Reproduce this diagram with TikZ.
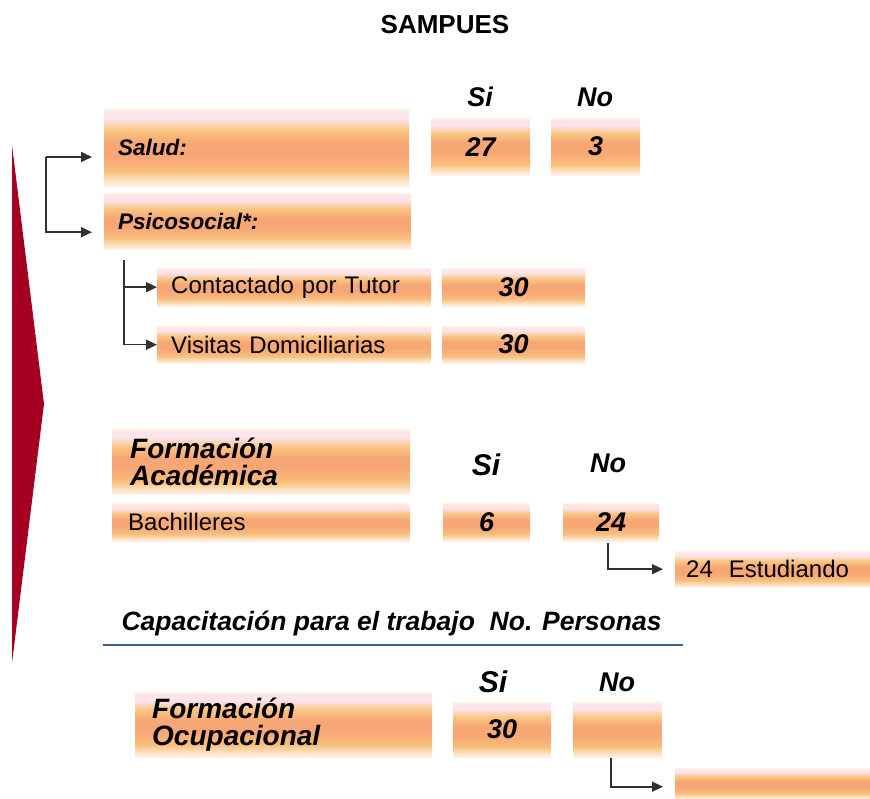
\documentclass[tikz,border=0pt]{standalone}
\usepackage{fontspec}
\setmainfont{Liberation Sans}
\usepackage{tikz}
\usetikzlibrary{positioning,arrows.meta,calc}
\definecolor{arrowred}{HTML}{A50021}
\definecolor{rulebl}{HTML}{3D5F92}
\definecolor{linkgray}{HTML}{303030}
\definecolor{bandtop}{HTML}{FFF3DE}
\definecolor{bandpink}{HTML}{FCE4EC}
\definecolor{bandyel}{HTML}{FAC47F}
\definecolor{bandsal}{HTML}{F7A675}
\definecolor{bandorg}{HTML}{F9BD7B}
\definecolor{bandpale}{HTML}{FCE6C8}
\definecolor{bandbot}{HTML}{FDF1F0}
\pgfdeclareverticalshading{bandfill}{100bp}{
  color(0bp)=(bandbot); color(25bp)=(bandbot); color(28bp)=(bandpale);
  color(35bp)=(bandorg); color(45bp)=(bandsal); color(53bp)=(bandsal);
  color(61bp)=(bandyel); color(69bp)=(bandpink); color(73bp)=(bandpink);
  color(75bp)=(bandtop); color(100bp)=(bandtop)}
\newcommand{\titlefnt}{\fontsize{26}{28}\selectfont\bfseries}
\newcommand{\itemfnt}{\fontsize{22.5}{24}\selectfont\bfseries\itshape}
\newcommand{\blockfnt}{\fontsize{28}{27}\selectfont\bfseries\itshape}
\newcommand{\plainfnt}{\fontsize{24}{26}\selectfont}
\newcommand{\countfnt}{\fontsize{27}{29}\selectfont\bfseries\itshape}
\newcommand{\nofnt}{\fontsize{27}{29}\selectfont\bfseries\itshape}
\newcommand{\sifnt}{\fontsize{30}{32}\selectfont\bfseries\itshape}
\newcommand{\capfnt}{\fontsize{26.5}{28}\selectfont\bfseries\itshape}
\tikzstyle{band}=[shading=bandfill,anchor=north west,inner sep=0pt]
\tikzstyle{labelbox}=[band,align=left,inner xsep=14pt]
\tikzstyle{countbox}=[band,font=\countfnt]
\tikzstyle{head}=[font=\nofnt]
\tikzstyle{link}=[draw=linkgray,line width=1.6pt,-{Triangle[length=11pt,width=10pt]}]

\begin{document}
\begin{tikzpicture}[x=1pt,y=-1pt]
  \useasboundingbox (0,0) rectangle (870,799);

  \node(title) at (445,25) {\titlefnt SAMPUES};

  \fill[arrowred] (12,145) -- (44,404) -- (12,663) -- cycle;

  % salud / psicosocial
  \node(salud)[labelbox,text width=277pt,minimum height=77pt,font=\itemfnt] at (104,109) {Salud:};
  \node(psico)[labelbox,text width=279pt,minimum height=56pt,font=\itemfnt] at (104,193) {Psicosocial*:};
  \node(n27)[countbox,minimum width=99pt,minimum height=57pt] at (431,118) {27};
  \node(n3)[countbox,minimum width=89pt,minimum height=57pt] at (551,118) {3};
  \node(si1)[head] at (480,97) {Si};
  \node(no1)[head] at (595,97) {No};

  \node(contact)[labelbox,text width=246pt,minimum height=38pt,font=\plainfnt] at (157,268) {Contactado por Tutor};
  \node(visit)[labelbox,text width=246pt,minimum height=37pt,font=\plainfnt] at (157,326) {Visitas Domiciliarias};
  \node(n30a)[countbox,minimum width=143pt,minimum height=38pt] at (442,268) {30};
  \node(n30b)[countbox,minimum width=143pt,minimum height=37pt] at (442,326) {30};

  \coordinate(fork1) at (46,157);
  \draw[link,shorten >=12pt] (fork1) -- (fork1 -| salud.west);
  \draw[link,shorten >=12pt] (fork1) |- ([yshift=-11pt]psico.west);
  \coordinate(fork2) at (124,260);
  \draw[link] (fork2) |- (contact.west);
  \draw[link] (fork2) |- (visit.west);

  % formacion academica
  \node(acad)[labelbox,inner xsep=18pt,text width=262pt,minimum height=65pt,font=\blockfnt] at (112,429) {Formación\\Académica};
  \node(bach)[labelbox,inner xsep=16pt,text width=266pt,minimum height=38pt,font=\plainfnt] at (112,503) {Bachilleres};
  \node(n6)[countbox,minimum width=87pt,minimum height=38pt] at (443,503) {6};
  \node(n24)[countbox,minimum width=96pt,minimum height=38pt] at (563,503) {24};
  \node(si2)[head,font=\sifnt] at (486,465) {Si};
  \node(no2)[head] at (608,463) {No};
  \node(estud)[labelbox,inner xsep=11pt,text width=173pt,minimum height=36pt,font=\plainfnt] at (675,551) {24\ \ Estudiando};
  \draw[link,shorten >=12pt] ([xshift=-3pt,yshift=-2pt]n24.south) |- (estud.west);

  % capacitacion
  \node(capac)[anchor=west,font=\capfnt] at (118,624) {Capacitación para el trabajo\ \ No. Personas};
  \draw[rulebl,line width=2.5pt] (103,645) -- (683,645);

  \node(ocup)[labelbox,inner xsep=17pt,text width=263pt,minimum height=65pt,font=\blockfnt] at (135,692) {Formación\\Ocupacional};
  \node(n30c)[countbox,minimum width=98pt,minimum height=55pt] at (453,702) {30};
  \node(nno)[countbox,minimum width=89pt,minimum height=55pt] at (573,702) {};
  \node(si3)[head,font=\sifnt] at (493,682) {Si};
  \node(no3)[head] at (617,682) {No};
  \node(blank)[band,minimum width=195pt,minimum height=31pt] at (675,768) {};
  \draw[link,shorten >=12pt] ([xshift=-7pt,yshift=-1pt]nno.south) |- ([yshift=-3pt]blank.west);
\end{tikzpicture}
\end{document}
